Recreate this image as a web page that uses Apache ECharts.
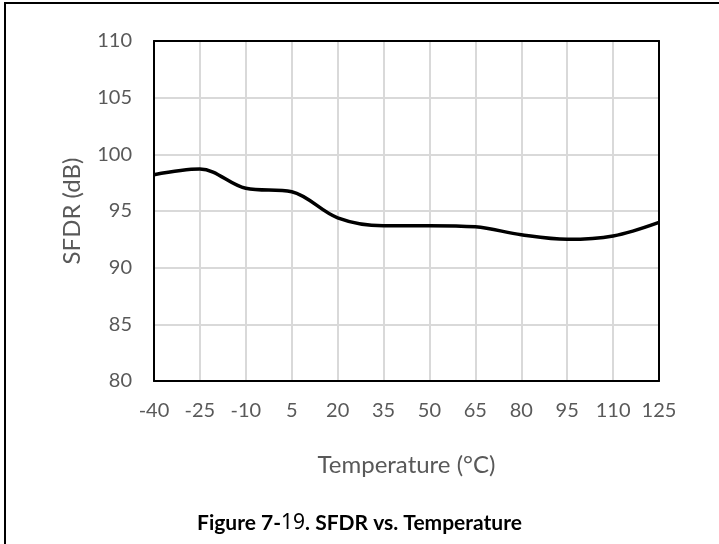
<!DOCTYPE html>
<html>
<head>
<meta charset="utf-8">
<script src="https://cdn.jsdelivr.net/npm/echarts@6/dist/echarts.min.js"></script>
<style>
html,body{margin:0;padding:0;background:#fff;}
#chart{width:719px;height:544px;}
</style>
</head>
<body>
<div id="chart"></div>
<script>
const temperatures = ['-40','-25','-10','5','20','35','50','65','80','95','110','125'];
const sfdr = [98.2, 98.7, 97.0, 96.7, 94.4, 93.7, 93.7, 93.6, 92.9, 92.5, 92.8, 94.0];
const yMin = 80, yMax = 110, yStep = 5;
const xTitle = 'Temperature (°C)';
const yTitle = 'SFDR (dB)';

const font = 'Lato, "Open Sans", sans-serif';
const gray = '#595959';
const chart = echarts.init(document.getElementById('chart'), null, {renderer: 'canvas'});
chart.setOption({
  backgroundColor: '#fff',
  animation: false,
  title: {
    text: '{b|Figure 7-}{n|19}{b|. SFDR vs. Temperature}',
    left: 'center',
    top: 508,
    textStyle: {
      rich: {
        b: {fontFamily: font, fontWeight: 'bold', fontSize: 21, color: '#000'},
        n: {fontFamily: '"Noto Sans", sans-serif', fontWeight: 'normal', fontSize: 21, color: '#000'}
      }
    }
  },
  grid: {left: 154, right: 60, top: 41, bottom: 163, containLabel: false},
  xAxis: [{
    type: 'category',
    data: temperatures,
    boundaryGap: false,
    axisLine: {show: true, lineStyle: {color: '#000', width: 2}},
    axisTick: {show: false},
    axisLabel: {color: gray, fontFamily: font, fontSize: 20, margin: 20, interval: 0},
    splitLine: {show: true, lineStyle: {color: '#d9d9d9', width: 2}},
    name: xTitle,
    nameLocation: 'middle',
    nameGap: 72,
    nameTextStyle: {color: gray, fontFamily: font, fontSize: 24}
  }, {
    type: 'category',
    data: temperatures,
    boundaryGap: false,
    position: 'top',
    axisLine: {show: true, lineStyle: {color: '#000', width: 2}},
    axisTick: {show: false},
    axisLabel: {show: false},
    splitLine: {show: false}
  }],
  yAxis: [{
    type: 'value',
    min: yMin, max: yMax, interval: yStep,
    axisLine: {show: true, lineStyle: {color: '#000', width: 2}},
    axisTick: {show: false},
    axisLabel: {color: gray, fontFamily: font, fontSize: 20, margin: 22},
    splitLine: {show: true, lineStyle: {color: '#d9d9d9', width: 2}},
    name: yTitle,
    nameLocation: 'middle',
    nameGap: 70,
    nameTextStyle: {color: gray, fontFamily: font, fontSize: 24}
  }, {
    type: 'value',
    min: yMin, max: yMax, interval: yStep,
    position: 'right',
    axisLine: {show: true, lineStyle: {color: '#000', width: 2}},
    axisTick: {show: false},
    axisLabel: {show: false},
    splitLine: {show: false}
  }],
  series: [{
    type: 'line',
    data: sfdr,
    smooth: 0.35,
    showSymbol: false,
    lineStyle: {color: '#000', width: 3.5},
    z: 5
  }],
  graphic: [
    {type: 'line', shape: {x1: 5, y1: 3, x2: 719, y2: 3}, style: {stroke: '#000', lineWidth: 2}},
    {type: 'line', shape: {x1: 5, y1: 2, x2: 5, y2: 544}, style: {stroke: '#000', lineWidth: 2}}
  ]
});
</script>
</body>
</html>
